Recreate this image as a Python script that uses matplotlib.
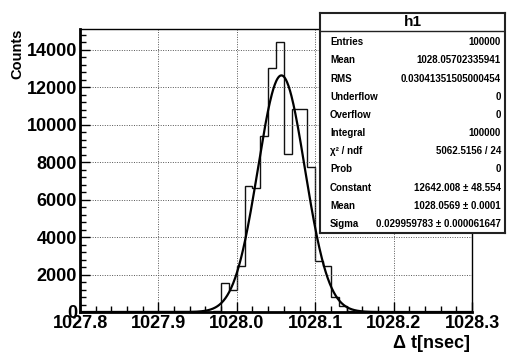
import numpy as np
import matplotlib
matplotlib.use('Agg')
import matplotlib.pyplot as plt
from matplotlib.ticker import MultipleLocator, FormatStrFormatter

plt.rcParams['font.family'] = ['Liberation Sans', 'DejaVu Sans']
plt.rcParams['font.weight'] = 'bold'

# histogram h1: 0.01 nsec bins
bin_edges = np.round(np.arange(1027.96, 1028.165, 0.01), 2)
counts = [20, 60, 1550, 1200, 2450, 6750, 6600, 9400, 13050, 14400,
          8450, 10850, 10850, 7770, 2700, 2450, 820, 300, 80, 20]

# gaussian fit
fit_const = 12642.008
fit_mean = 1028.0569
fit_sigma = 0.029959783

stat_names = ['Entries', 'Mean', 'RMS', 'Underflow', 'Overflow', 'Integral',
              'χ² / ndf', 'Prob', 'Constant', 'Mean', 'Sigma']
stat_values = ['100000', '1028.05702335941', '0.03041351505000454', '0', '0',
               '100000', '5062.5156 / 24', '0', '12642.008 ± 48.554',
               '1028.0569 ± 0.0001', '0.029959783 ± 0.000061647']

W, H = 510, 352
fig = plt.figure(figsize=(W / 100, H / 100), dpi=100)
ax = fig.add_axes([80 / W, 40 / H, 392 / W, 283 / H])

ax.stairs(counts, bin_edges, color='#111111', linewidth=1.0)
xf = np.linspace(1027.8, 1028.3, 800)
ax.plot(xf, fit_const * np.exp(-0.5 * ((xf - fit_mean) / fit_sigma) ** 2),
        color='black', linewidth=1.6)

ax.set_xlim(1027.8, 1028.3)
ax.set_ylim(0, 1.05 * max(counts))
ax.xaxis.set_major_locator(MultipleLocator(0.1))
ax.xaxis.set_minor_locator(MultipleLocator(0.02))
ax.xaxis.set_major_formatter(FormatStrFormatter('%.1f'))
ax.yaxis.set_major_locator(MultipleLocator(2000))
ax.yaxis.set_minor_locator(MultipleLocator(400))
ax.tick_params(which='both', direction='in', top=False, right=False, labelsize=13)
ax.tick_params(which='major', length=7, width=1)
ax.tick_params(which='minor', length=4, width=1)
ax.tick_params(axis='x', pad=2)
ax.tick_params(axis='y', pad=2)
ax.grid(which='major', linestyle=(0, (1, 1.5)), color='#555555', linewidth=0.7)
for side in ['left', 'bottom']:
    ax.spines[side].set_linewidth(2)
for side in ['top', 'right']:
    ax.spines[side].set_linewidth(1)

fig.text(470 / W, 1 - 344 / H, 'Δ t[nsec]', ha='right', va='center', fontsize=13)
fig.text(17 / W, 1 - 29 / H, 'Counts', rotation=90, ha='center', va='top', fontsize=10.5)

# stats box, drawn in pixel units
bx, by, bw, bh = 320, 13, 185, 220
sb = fig.add_axes([bx / W, 1 - (by + bh) / H, bw / W, bh / H])
sb.set_xlim(0, bw)
sb.set_ylim(bh, 0)
sb.set_xticks([])
sb.set_yticks([])
sb.set_facecolor('white')
for sp in sb.spines.values():
    sp.set_linewidth(1.5)
    sp.set_color('#222222')
sb.axhline(17.5, color='#222222', linewidth=1)
sb.text(bw / 2, 9.5, 'h1', ha='center', va='center', fontsize=11)
for i, (name, val) in enumerate(zip(stat_names, stat_values)):
    yy = 29.3 + i * 18.17
    sb.text(10, yy, name, ha='left', va='center', fontsize=7)
    sb.text(181, yy, val, ha='right', va='center', fontsize=7)

fig.savefig('out.png', dpi=100)
